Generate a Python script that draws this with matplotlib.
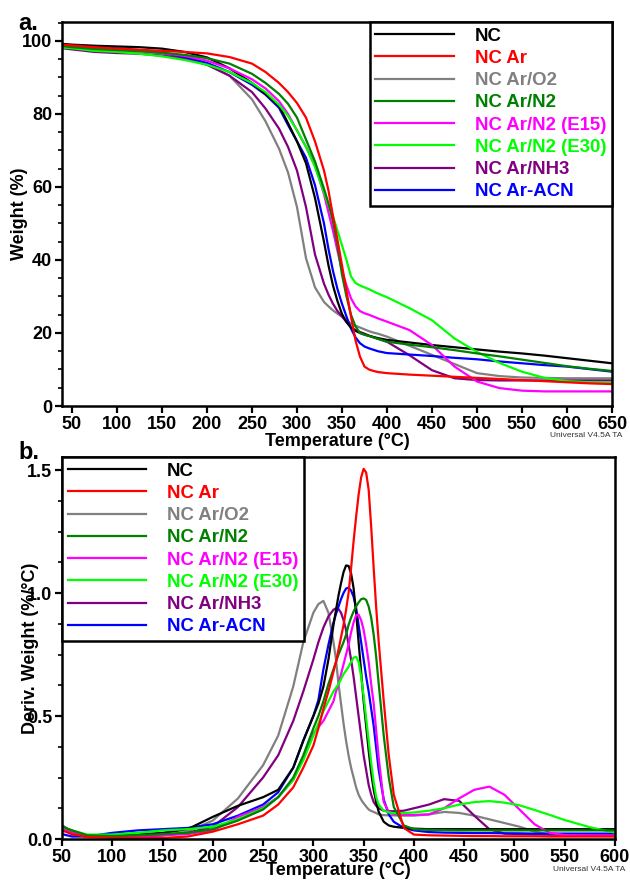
import matplotlib
matplotlib.use("Agg")
import matplotlib.pyplot as plt
from matplotlib.ticker import MultipleLocator, FormatStrFormatter
from matplotlib.lines import Line2D

plt.rcParams['font.family'] = ['Liberation Sans', 'DejaVu Sans']
plt.rcParams['font.weight'] = 'bold'

labels = ["NC", "NC Ar", "NC Ar/O2", "NC Ar/N2", "NC Ar/N2 (E15)",
          "NC Ar/N2 (E30)", "NC Ar/NH3", "NC Ar-ACN"]
colors = ["#000000", "#ff0000", "#808080", "#008000", "#ff00ff",
          "#00ff00", "#800080", "#0000ff"]

# ---------------- Panel a: TGA weight (%) ----------------
temp_a = [40, 50, 75, 100, 125, 150, 175, 200, 225, 250, 265, 280, 290, 300,
          310, 320, 330, 335, 340, 345, 350, 355, 360, 365, 370, 375, 380, 385,
          390, 400, 425, 450, 475, 500, 525, 550, 575, 600, 625, 650]

w_nc = [99.2, 99.0, 98.7, 98.5, 98.3, 97.9, 97.0, 95.5, 92.5, 88.5, 85.5, 82.3,
        77.5, 72.5, 66.5, 57.0, 45.0, 38.5, 33.0, 28.7, 25.2, 23.0, 21.5, 20.6,
        20.0, 19.6, 19.2, 18.9, 18.6, 18.1, 17.4, 16.7, 16.1, 15.5, 14.9, 14.4,
        13.8, 13.1, 12.4, 11.7]
w_ar = [99.0, 98.8, 98.3, 97.9, 97.6, 97.3, 97.0, 96.6, 95.6, 93.8, 91.5, 88.5,
        86.0, 83.0, 79.0, 72.5, 64.5, 59.0, 52.0, 45.5, 38.5, 31.5, 24.5, 18.0,
        13.5, 10.8, 10.0, 9.6, 9.3, 9.0, 8.6, 8.3, 8.0, 7.7, 7.4, 7.1, 6.8, 6.5,
        6.2, 6.0]
w_o2 = [98.5, 98.3, 97.8, 97.5, 97.2, 96.6, 95.5, 93.5, 90.5, 84.0, 78.0, 70.5,
        64.0, 54.5, 40.5, 32.5, 28.5, 27.3, 26.2, 25.3, 24.5, 23.5, 22.5, 22.0,
        21.5, 21.0, 20.5, 20.1, 19.8, 19.0, 16.5, 14.0, 11.5, 9.0, 8.2, 7.8, 7.7,
        7.6, 7.6, 7.6]
w_n2 = [98.6, 98.3, 97.8, 97.5, 97.2, 96.8, 96.2, 95.3, 93.8, 91.0, 88.5, 85.5,
        82.8, 79.0, 73.0, 67.0, 59.5, 55.5, 50.5, 44.0, 36.0, 30.0, 25.0, 21.8,
        20.0, 19.5, 19.2, 18.8, 18.4, 17.6, 16.8, 16.1, 15.3, 14.4, 13.6, 12.7,
        11.8, 10.9, 10.2, 9.6]
w_e15 = [98.6, 98.4, 98.0, 97.7, 97.3, 96.7, 95.9, 94.6, 92.5, 89.5, 87.0, 83.5,
         80.0, 75.5, 71.0, 66.0, 58.0, 53.0, 48.0, 42.5, 37.0, 33.0, 29.5, 27.3,
         26.0, 25.4, 25.0, 24.5, 24.0, 23.1, 20.8, 16.7, 10.8, 6.7, 4.9, 4.2,
         4.0, 4.0, 4.0, 4.0]
w_e30 = [98.2, 98.0, 97.3, 97.0, 96.5, 95.8, 94.8, 93.5, 91.5, 88.5, 86.0, 82.5,
         79.5, 75.5, 71.0, 65.5, 58.5, 55.0, 52.0, 48.0, 44.0, 40.0, 35.5, 33.7,
         33.0, 32.5, 32.0, 31.4, 30.8, 29.8, 26.8, 23.5, 18.5, 14.8, 11.8, 9.4,
         7.7, 6.8, 6.5, 6.4]
w_nh3 = [98.0, 97.7, 97.0, 96.7, 96.5, 96.0, 95.2, 93.5, 90.5, 86.0, 81.5, 76.0,
         71.0, 64.5, 54.5, 41.5, 33.5, 30.5, 28.0, 26.0, 24.5, 23.0, 21.5, 20.8,
         20.3, 19.8, 19.3, 18.8, 18.4, 17.6, 13.9, 9.8, 7.6, 7.1, 7.0, 7.0, 7.0,
         7.0, 7.0, 7.0]
w_acn = [99.0, 98.8, 98.3, 98.0, 97.5, 96.8, 95.6, 94.0, 91.5, 88.0, 85.3, 81.7,
         77.0, 72.5, 68.0, 60.5, 50.0, 43.0, 37.0, 32.0, 28.0, 24.5, 21.2, 18.8,
         17.2, 16.3, 15.8, 15.4, 15.0, 14.5, 14.1, 13.7, 13.2, 12.8, 12.2, 11.7,
         11.2, 10.8, 10.1, 9.4]

# ---------------- Panel b: DTG deriv. weight (%/°C) ----------------
temp_b = [50, 60, 75, 100, 125, 150, 175, 200, 225, 250, 265, 280, 290, 300,
          305, 310, 315, 320, 322.5, 325, 327.5, 330, 332.5, 335, 337.5, 340,
          342.5, 345, 347.5, 350, 352.5, 355, 357.5, 360, 362.5, 365, 370, 375,
          380, 390, 400, 415, 430, 445, 460, 475, 490, 505, 520, 535, 550, 575,
          600]

d_nc = [0.040, 0.020, 0.010, 0.012, 0.018, 0.025, 0.040, 0.090, 0.135, 0.170,
        0.200, 0.290, 0.400, 0.500, 0.550, 0.620, 0.730, 0.870, 0.930, 0.990,
        1.040, 1.085, 1.112, 1.110, 1.080, 1.020, 0.920, 0.800, 0.680, 0.560,
        0.460, 0.360, 0.270, 0.200, 0.150, 0.110, 0.070, 0.055, 0.050, 0.045,
        0.042, 0.040, 0.040, 0.040, 0.040, 0.040, 0.040, 0.040, 0.040, 0.040,
        0.040, 0.040, 0.040]
d_ar = [0.035, 0.020, 0.008, 0.005, 0.004, 0.004, 0.010, 0.030, 0.060, 0.095,
        0.140, 0.210, 0.290, 0.380, 0.450, 0.530, 0.600, 0.680, 0.720, 0.770,
        0.820, 0.870, 0.930, 1.000, 1.100, 1.210, 1.310, 1.400, 1.470, 1.505,
        1.490, 1.420, 1.270, 1.100, 0.940, 0.800, 0.560, 0.340, 0.180, 0.045,
        0.018, 0.015, 0.014, 0.013, 0.012, 0.012, 0.011, 0.011, 0.011, 0.010,
        0.010, 0.010, 0.010]
d_o2 = [0.055, 0.030, 0.012, 0.008, 0.010, 0.015, 0.030, 0.075, 0.165, 0.300,
        0.420, 0.620, 0.800, 0.920, 0.955, 0.968, 0.920, 0.800, 0.730, 0.630,
        0.550, 0.470, 0.400, 0.340, 0.290, 0.250, 0.210, 0.180, 0.160, 0.145,
        0.132, 0.120, 0.114, 0.110, 0.105, 0.100, 0.097, 0.096, 0.096, 0.095,
        0.095, 0.100, 0.110, 0.106, 0.095, 0.080, 0.065, 0.050, 0.030, 0.018,
        0.015, 0.014, 0.014]
d_n2 = [0.050, 0.035, 0.015, 0.012, 0.015, 0.020, 0.025, 0.040, 0.075, 0.120,
        0.170, 0.250, 0.340, 0.450, 0.500, 0.560, 0.630, 0.690, 0.720, 0.750,
        0.775, 0.800, 0.830, 0.870, 0.900, 0.925, 0.945, 0.962, 0.975, 0.978,
        0.972, 0.945, 0.900, 0.830, 0.740, 0.630, 0.420, 0.250, 0.130, 0.055,
        0.040, 0.037, 0.036, 0.035, 0.035, 0.035, 0.035, 0.035, 0.035, 0.035,
        0.035, 0.035, 0.035]
d_e15 = [0.040, 0.025, 0.012, 0.010, 0.012, 0.015, 0.020, 0.035, 0.090, 0.130,
         0.170, 0.240, 0.330, 0.430, 0.455, 0.480, 0.520, 0.560, 0.600, 0.630,
         0.670, 0.710, 0.750, 0.790, 0.840, 0.880, 0.910, 0.912, 0.890, 0.850,
         0.790, 0.720, 0.630, 0.550, 0.440, 0.330, 0.150, 0.110, 0.100, 0.098,
         0.098, 0.100, 0.125, 0.165, 0.200, 0.213, 0.180, 0.120, 0.060, 0.025,
         0.016, 0.015, 0.015]
d_e30 = [0.050, 0.035, 0.018, 0.018, 0.025, 0.035, 0.040, 0.050, 0.080, 0.125,
         0.170, 0.240, 0.320, 0.420, 0.470, 0.520, 0.560, 0.600, 0.615, 0.630,
         0.650, 0.670, 0.685, 0.700, 0.720, 0.737, 0.741, 0.720, 0.660, 0.580,
         0.490, 0.400, 0.310, 0.230, 0.170, 0.140, 0.115, 0.108, 0.105, 0.105,
         0.108, 0.115, 0.125, 0.140, 0.150, 0.154, 0.148, 0.137, 0.118, 0.098,
         0.077, 0.048, 0.026]
d_nh3 = [0.055, 0.030, 0.012, 0.008, 0.010, 0.015, 0.025, 0.050, 0.130, 0.250,
         0.340, 0.480, 0.600, 0.730, 0.800, 0.860, 0.905, 0.932, 0.938, 0.935,
         0.920, 0.890, 0.850, 0.790, 0.730, 0.660, 0.580, 0.500, 0.420, 0.340,
         0.280, 0.220, 0.180, 0.150, 0.135, 0.125, 0.115, 0.113, 0.113, 0.115,
         0.125, 0.140, 0.162, 0.155, 0.095, 0.040, 0.022, 0.020, 0.019, 0.018,
         0.018, 0.018, 0.018]
d_acn = [0.020, 0.010, 0.010, 0.025, 0.035, 0.040, 0.045, 0.060, 0.095, 0.140,
         0.190, 0.290, 0.400, 0.500, 0.565, 0.690, 0.790, 0.880, 0.915, 0.945,
         0.975, 1.000, 1.018, 1.022, 1.010, 0.985, 0.940, 0.870, 0.800, 0.730,
         0.660, 0.600, 0.530, 0.460, 0.370, 0.280, 0.160, 0.100, 0.070, 0.045,
         0.035, 0.028, 0.026, 0.025, 0.024, 0.024, 0.023, 0.023, 0.022, 0.022,
         0.022, 0.022, 0.022]

series_a = [w_nc, w_ar, w_o2, w_n2, w_e15, w_e30, w_nh3, w_acn]
series_b = [d_nc, d_ar, d_o2, d_n2, d_e15, d_e30, d_nh3, d_acn]

fig = plt.figure(figsize=(6.3, 8.8), dpi=100)
ax1 = fig.add_axes([62/630, 1-406/880, (612-62)/630, (406-22)/880])
ax2 = fig.add_axes([62/630, 1-839/880, (615-62)/630, (839-457)/880])

draw_order = [2, 6, 7, 0, 4, 5, 3, 1]
for i in draw_order:
    ax1.plot(temp_a, series_a[i], color=colors[i], lw=1.6,
             solid_joinstyle='round')
    ax2.plot(temp_b, series_b[i], color=colors[i], lw=1.6,
             solid_joinstyle='round')

def style(ax):
    for s in ax.spines.values():
        s.set_linewidth(1.8)
    ax.tick_params(which='major', direction='out', length=5, width=1.6,
                   labelsize=13, pad=2)
    ax.tick_params(which='minor', direction='out', length=3, width=1.2)
    for t in ax.get_xticklabels() + ax.get_yticklabels():
        t.set_fontweight('bold')

ax1.set_xlim(38.9, 650)
ax1.set_ylim(0, 105.2)
ax1.xaxis.set_major_locator(MultipleLocator(50))
ax1.yaxis.set_major_locator(MultipleLocator(20))
ax1.yaxis.set_minor_locator(MultipleLocator(5))
style(ax1)
ax1.set_ylabel("Weight (%)", fontsize=13, fontweight='bold')
ax1.yaxis.set_label_coords(-0.062, 0.5)
ax1.set_xlabel("Temperature (°C)", fontsize=13, fontweight='bold', labelpad=0)

ax2.set_xlim(50, 600)
ax2.set_ylim(0, 1.553)
ax2.xaxis.set_major_locator(MultipleLocator(50))
ax2.yaxis.set_major_locator(MultipleLocator(0.5))
ax2.yaxis.set_minor_locator(MultipleLocator(0.125))
ax2.yaxis.set_major_formatter(FormatStrFormatter('%.1f'))
style(ax2)
ax2.set_ylabel("Deriv. Weight (%/°C)", fontsize=13, fontweight='bold')
ax2.yaxis.set_label_coords(-0.041, 0.5)
ax2.set_xlabel("Temperature (°C)", fontsize=13, fontweight='bold', labelpad=-3)

handles = [Line2D([], [], color=c, lw=1.6) for c in colors]
for ax, loc in ((ax1, 'upper right'), (ax2, 'upper left')):
    leg = ax.legend(handles, labels, loc=loc, borderaxespad=0, fancybox=False,
                    framealpha=1, edgecolor='black', handlelength=4.2,
                    handletextpad=1.15, labelspacing=0.28, borderpad=0.3,
                    prop={'size': 13.4, 'weight': 'bold'})
    leg.get_frame().set_linewidth(1.8)
    for txt, c in zip(leg.get_texts(), colors):
        txt.set_color(c)

fig.text(18/630, 1-24/880, "a.", fontsize=17, fontweight='bold', va='center')
fig.text(18/630, 1-452/880, "b.", fontsize=17, fontweight='bold', va='center')
fig.text(622/630, 1-435/880, "Universal V4.5A TA", fontsize=6,
         fontweight='normal', ha='right', va='center', color='#333333')
fig.text(625/630, 1-869/880, "Universal V4.5A TA", fontsize=6,
         fontweight='normal', ha='right', va='center', color='#333333')

fig.savefig("out.png", dpi=100)
